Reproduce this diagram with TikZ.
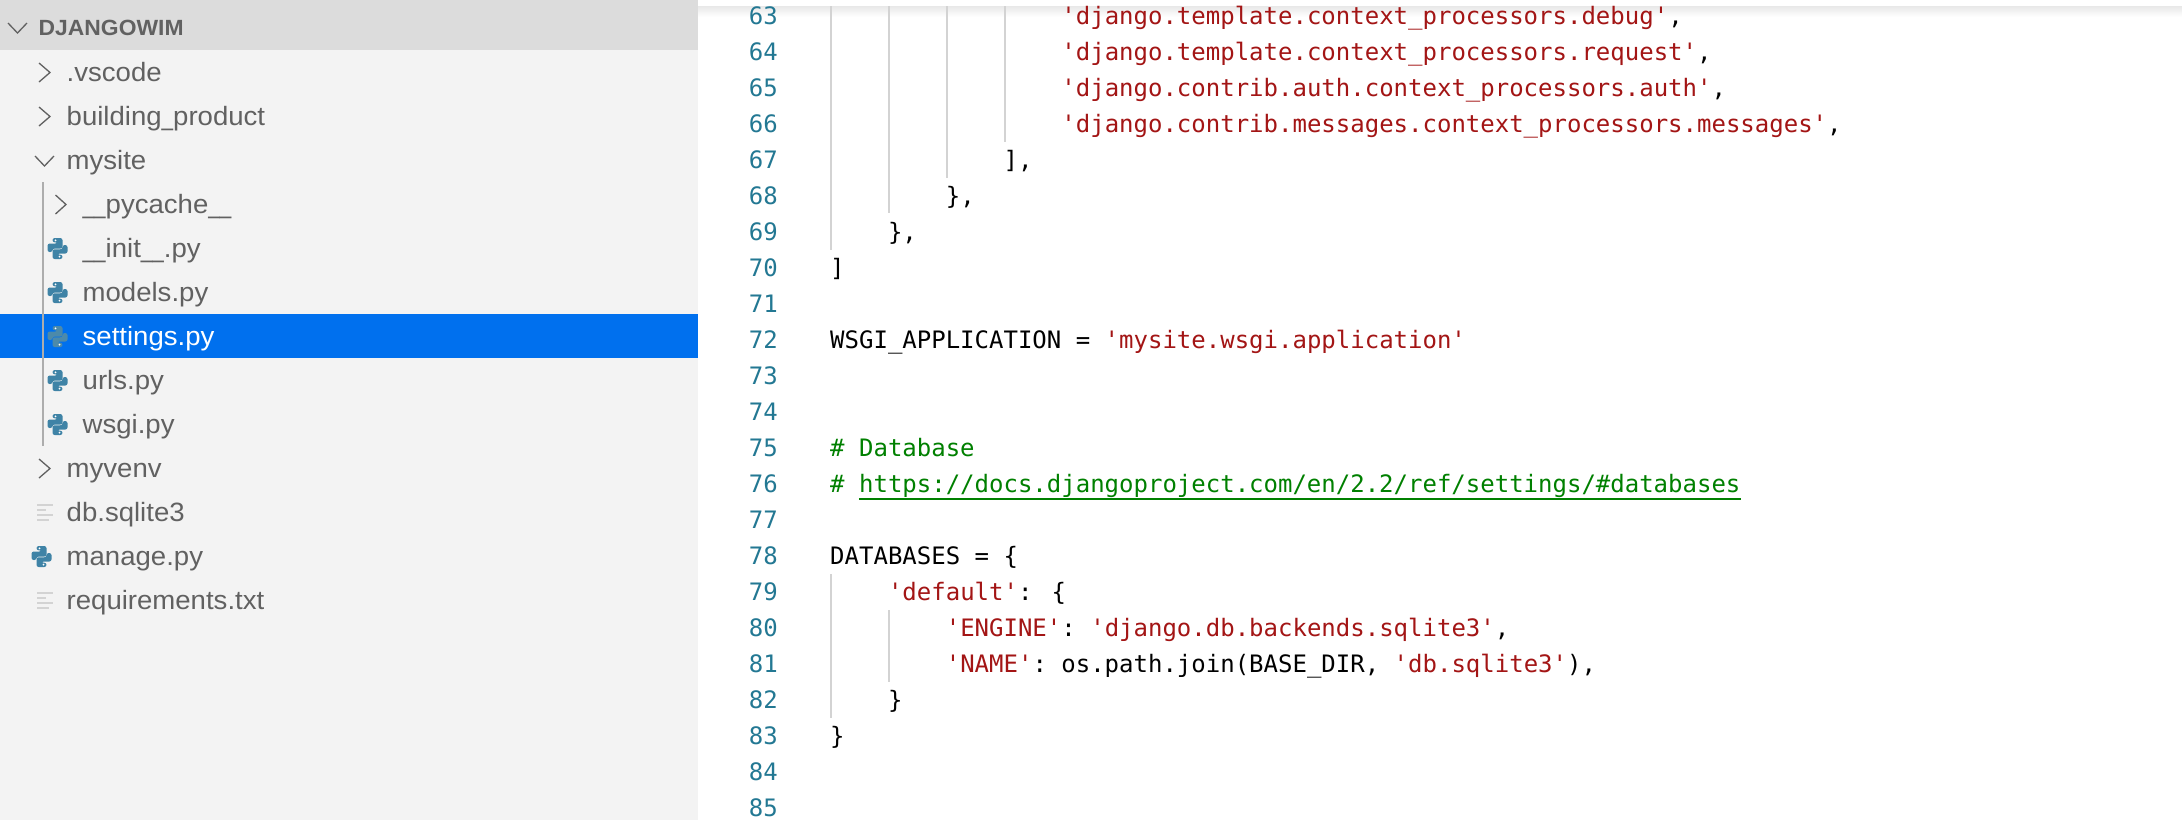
\documentclass[tikz,border=0pt]{standalone}
\usepackage{fontspec}
\newfontfamily\codefam{DejaVu Sans Mono}
\newfontfamily\treefam[FakeStretch=1.04]{Liberation Sans}
\definecolor{numblue}{HTML}{237893}
\definecolor{strred}{HTML}{A31515}
\definecolor{comgreen}{HTML}{008000}
\definecolor{guidegray}{HTML}{D3D3D3}
\definecolor{treegray}{HTML}{616161}
\definecolor{sidebg}{HTML}{F3F3F3}
\definecolor{headbg}{HTML}{DCDCDC}
\definecolor{selblue}{HTML}{0070EE}
\definecolor{pyblue}{HTML}{3F83A6}
\definecolor{pyselblue}{HTML}{4C8AAA}
\newcommand{\strq}[1]{\textcolor{strred}{#1}}
\newcommand{\usc}{\scalebox{.75}[1]{\_}}
\tikzset{
  num/.style={anchor=base east,inner sep=0,text=numblue,font=\fontsize{24}{36}\selectfont\codefam},
  code/.style={anchor=base west,inner sep=0,text=black,font=\fontsize{24}{36}\selectfont\codefam},
  comment/.style={code,text=comgreen},
  tree/.style={anchor=base west,inner sep=0,text=treegray,font=\fontsize{26.5}{36}\selectfont\treefam},
  head/.style={anchor=base west,inner sep=0,text=treegray,font=\fontsize{22}{30}\selectfont\treefam\bfseries},
  guide/.style={draw=guidegray,line width=1.5pt},
  chev/.style={draw=treegray,line width=1.3pt},
  fileline/.style={draw=guidegray,line width=2.2pt},
  pics/pyicon/.style={code={
    \fill[rounded corners=2.2pt] (-5,-10.5) -- (5,-10.5) -- (5,0) -- (-5,0) -- (-5,3.5) -- (-10,3.5) -- (-10,-5) -- (0,-5) -- (0,-6.2) -- (-5,-6.2) -- cycle;
    \fill[rounded corners=2.2pt] (5,10.5) -- (-5,10.5) -- (-5,0.8) -- (5,0.8) -- (5,-3.5) -- (10,-3.5) -- (10,5) -- (0,5) -- (0,6.2) -- (5,6.2) -- cycle;
    \fill[white] (-2,-8.2) circle (1);
    \fill[white] (2,8.2) circle (1);
  }}
}
\begin{document}
\begin{tikzpicture}[x=1pt,y=-1pt]
\useasboundingbox (0,0) rectangle (2182,820);
\fill[white] (0,0) rectangle (2182,820);
% sidebar
\fill[sidebg] (0,0) rectangle (698,820);
\fill[headbg] (0,0) rectangle (698,50);
\fill[selblue] (0,314) rectangle (698,358);
\shade[top color=black!9,bottom color=white] (698,6) rectangle (2182,17);
\draw[draw=black!32,line width=2pt] (43,182) -- (43,446);
\draw[chev] (8,23) -- (17.5,33) -- (27,23);
\node[head] (root) at (38.5,35) {DJANGOWIM};
\draw[chev] (39,63) -- (50,72.5) -- (39,82);
\node[tree] (vscode) at (66.5,81.5) {.vscode};
\draw[chev] (39,107) -- (50,116.5) -- (39,126);
\node[tree] (building) at (66.5,125.5) {building\usc product};
\draw[chev] (35,156) -- (44.5,166) -- (54,156);
\node[tree] (mysite) at (66.5,169.5) {mysite};
\draw[chev] (55.5,195) -- (66,204.5) -- (55.5,214);
\node[tree] (pycache) at (82.5,213.5) {\usc\usc pycache\usc\usc};
\pic[color=pyblue] at (57.5,248.5) {pyicon};
\node[tree] (init) at (82.5,257.5) {\usc\usc init\usc\usc.py};
\pic[color=pyblue] at (57.5,292.5) {pyicon};
\node[tree] (models) at (82.5,301.5) {models.py};
\pic[color=pyselblue] at (57.5,336.5) {pyicon};
\node[tree,text=white] (settings) at (82.5,345.5) {settings.py};
\pic[color=pyblue] at (57.5,380.5) {pyicon};
\node[tree] (urls) at (82.5,389.5) {urls.py};
\pic[color=pyblue] at (57.5,424.5) {pyicon};
\node[tree] (wsgi) at (82.5,433.5) {wsgi.py};
\draw[chev] (39,459) -- (50,468.5) -- (39,478);
\node[tree] (myvenv) at (66.5,477.5) {myvenv};
\draw[fileline] (37,505) -- (53,505);
\draw[fileline] (37,510) -- (46,510);
\draw[fileline] (37,515) -- (53,515);
\draw[fileline] (37,520) -- (49,520);
\node[tree] (db) at (66.5,521.5) {db.sqlite3};
\pic[color=pyblue] at (41.5,556.5) {pyicon};
\node[tree] (manage) at (66.5,565.5) {manage.py};
\draw[fileline] (37,593) -- (53,593);
\draw[fileline] (37,598) -- (46,598);
\draw[fileline] (37,603) -- (53,603);
\draw[fileline] (37,608) -- (49,608);
\node[tree] (reqs) at (66.5,609.5) {requirements.txt};
% indent guides
\draw[guide] (831,6) -- (831,250);
\draw[guide] (889,6) -- (889,213);
\draw[guide] (947,6) -- (947,178);
\draw[guide] (1005,6) -- (1005,142);
\draw[guide] (831,574) -- (831,718);
\draw[guide] (889,610) -- (889,682);
\begin{scope}[yshift=-0.5pt]
% line numbers
\node[num] (n63) at (778,23.5) {63};
\node[num] (n64) at (778,59.5) {64};
\node[num] (n65) at (778,95.5) {65};
\node[num] (n66) at (778,131.5) {66};
\node[num] (n67) at (778,167.5) {67};
\node[num] (n68) at (778,203.5) {68};
\node[num] (n69) at (778,239.5) {69};
\node[num] (n70) at (778,275.5) {70};
\node[num] (n71) at (778,311.5) {71};
\node[num] (n72) at (778,347.5) {72};
\node[num] (n73) at (778,383.5) {73};
\node[num] (n74) at (778,419.5) {74};
\node[num] (n75) at (778,455.5) {75};
\node[num] (n76) at (778,491.5) {76};
\node[num] (n77) at (778,527.5) {77};
\node[num] (n78) at (778,563.5) {78};
\node[num] (n79) at (778,599.5) {79};
\node[num] (n80) at (778,635.5) {80};
\node[num] (n81) at (778,671.5) {81};
\node[num] (n82) at (778,707.5) {82};
\node[num] (n83) at (778,743.5) {83};
\node[num] (n84) at (778,779.5) {84};
\node[num] (n85) at (778,815.5) {85};
% code
\node[code] (c63) at (1061.2,23.5) {\strq{'django.template.context\_processors.debug'},};
\node[code] (c64) at (1061.2,59.5) {\strq{'django.template.context\_processors.request'},};
\node[code] (c65) at (1061.2,95.5) {\strq{'django.contrib.auth.context\_processors.auth'},};
\node[code] (c66) at (1061.2,131.5) {\strq{'django.contrib.messages.context\_processors.messages'},};
\node[code] (c67) at (1003.4,167.5) {],};
\node[code] (c68) at (945.6,203.5) {\},};
\node[code] (c69) at (887.8,239.5) {\},};
\node[code] (c70) at (830,275.5) {]};
\node[code] (c72) at (830,347.5) {WSGI\_APPLICATION = \strq{'mysite.wsgi.application'}};
\node[comment] (c75) at (830,455.5) {\# Database};
\node[comment] (c76) at (830,491.5) {\#};
\node[comment] (url) at (858.9,491.5) {https://docs.djangoproject.com/en/2.2/ref/settings/\#databases};
\draw[comgreen,line width=2pt] ([yshift=-7pt]url.base west) -- ([yshift=-7pt]url.base east);
\node[code] (c78) at (830,563.5) {DATABASES = \{};
\node[code] (c79) at (887.8,599.5) {\strq{'default'}: \{};
\node[code] (c80) at (945.6,635.5) {\strq{'ENGINE'}: \strq{'django.db.backends.sqlite3'},};
\node[code] (c81) at (945.6,671.5) {\strq{'NAME'}: os.path.join(BASE\_DIR, \strq{'db.sqlite3'}),};
\node[code] (c82) at (887.8,707.5) {\}};
\node[code] (c83) at (830,743.5) {\}};
\end{scope}
\end{tikzpicture}
\end{document}
